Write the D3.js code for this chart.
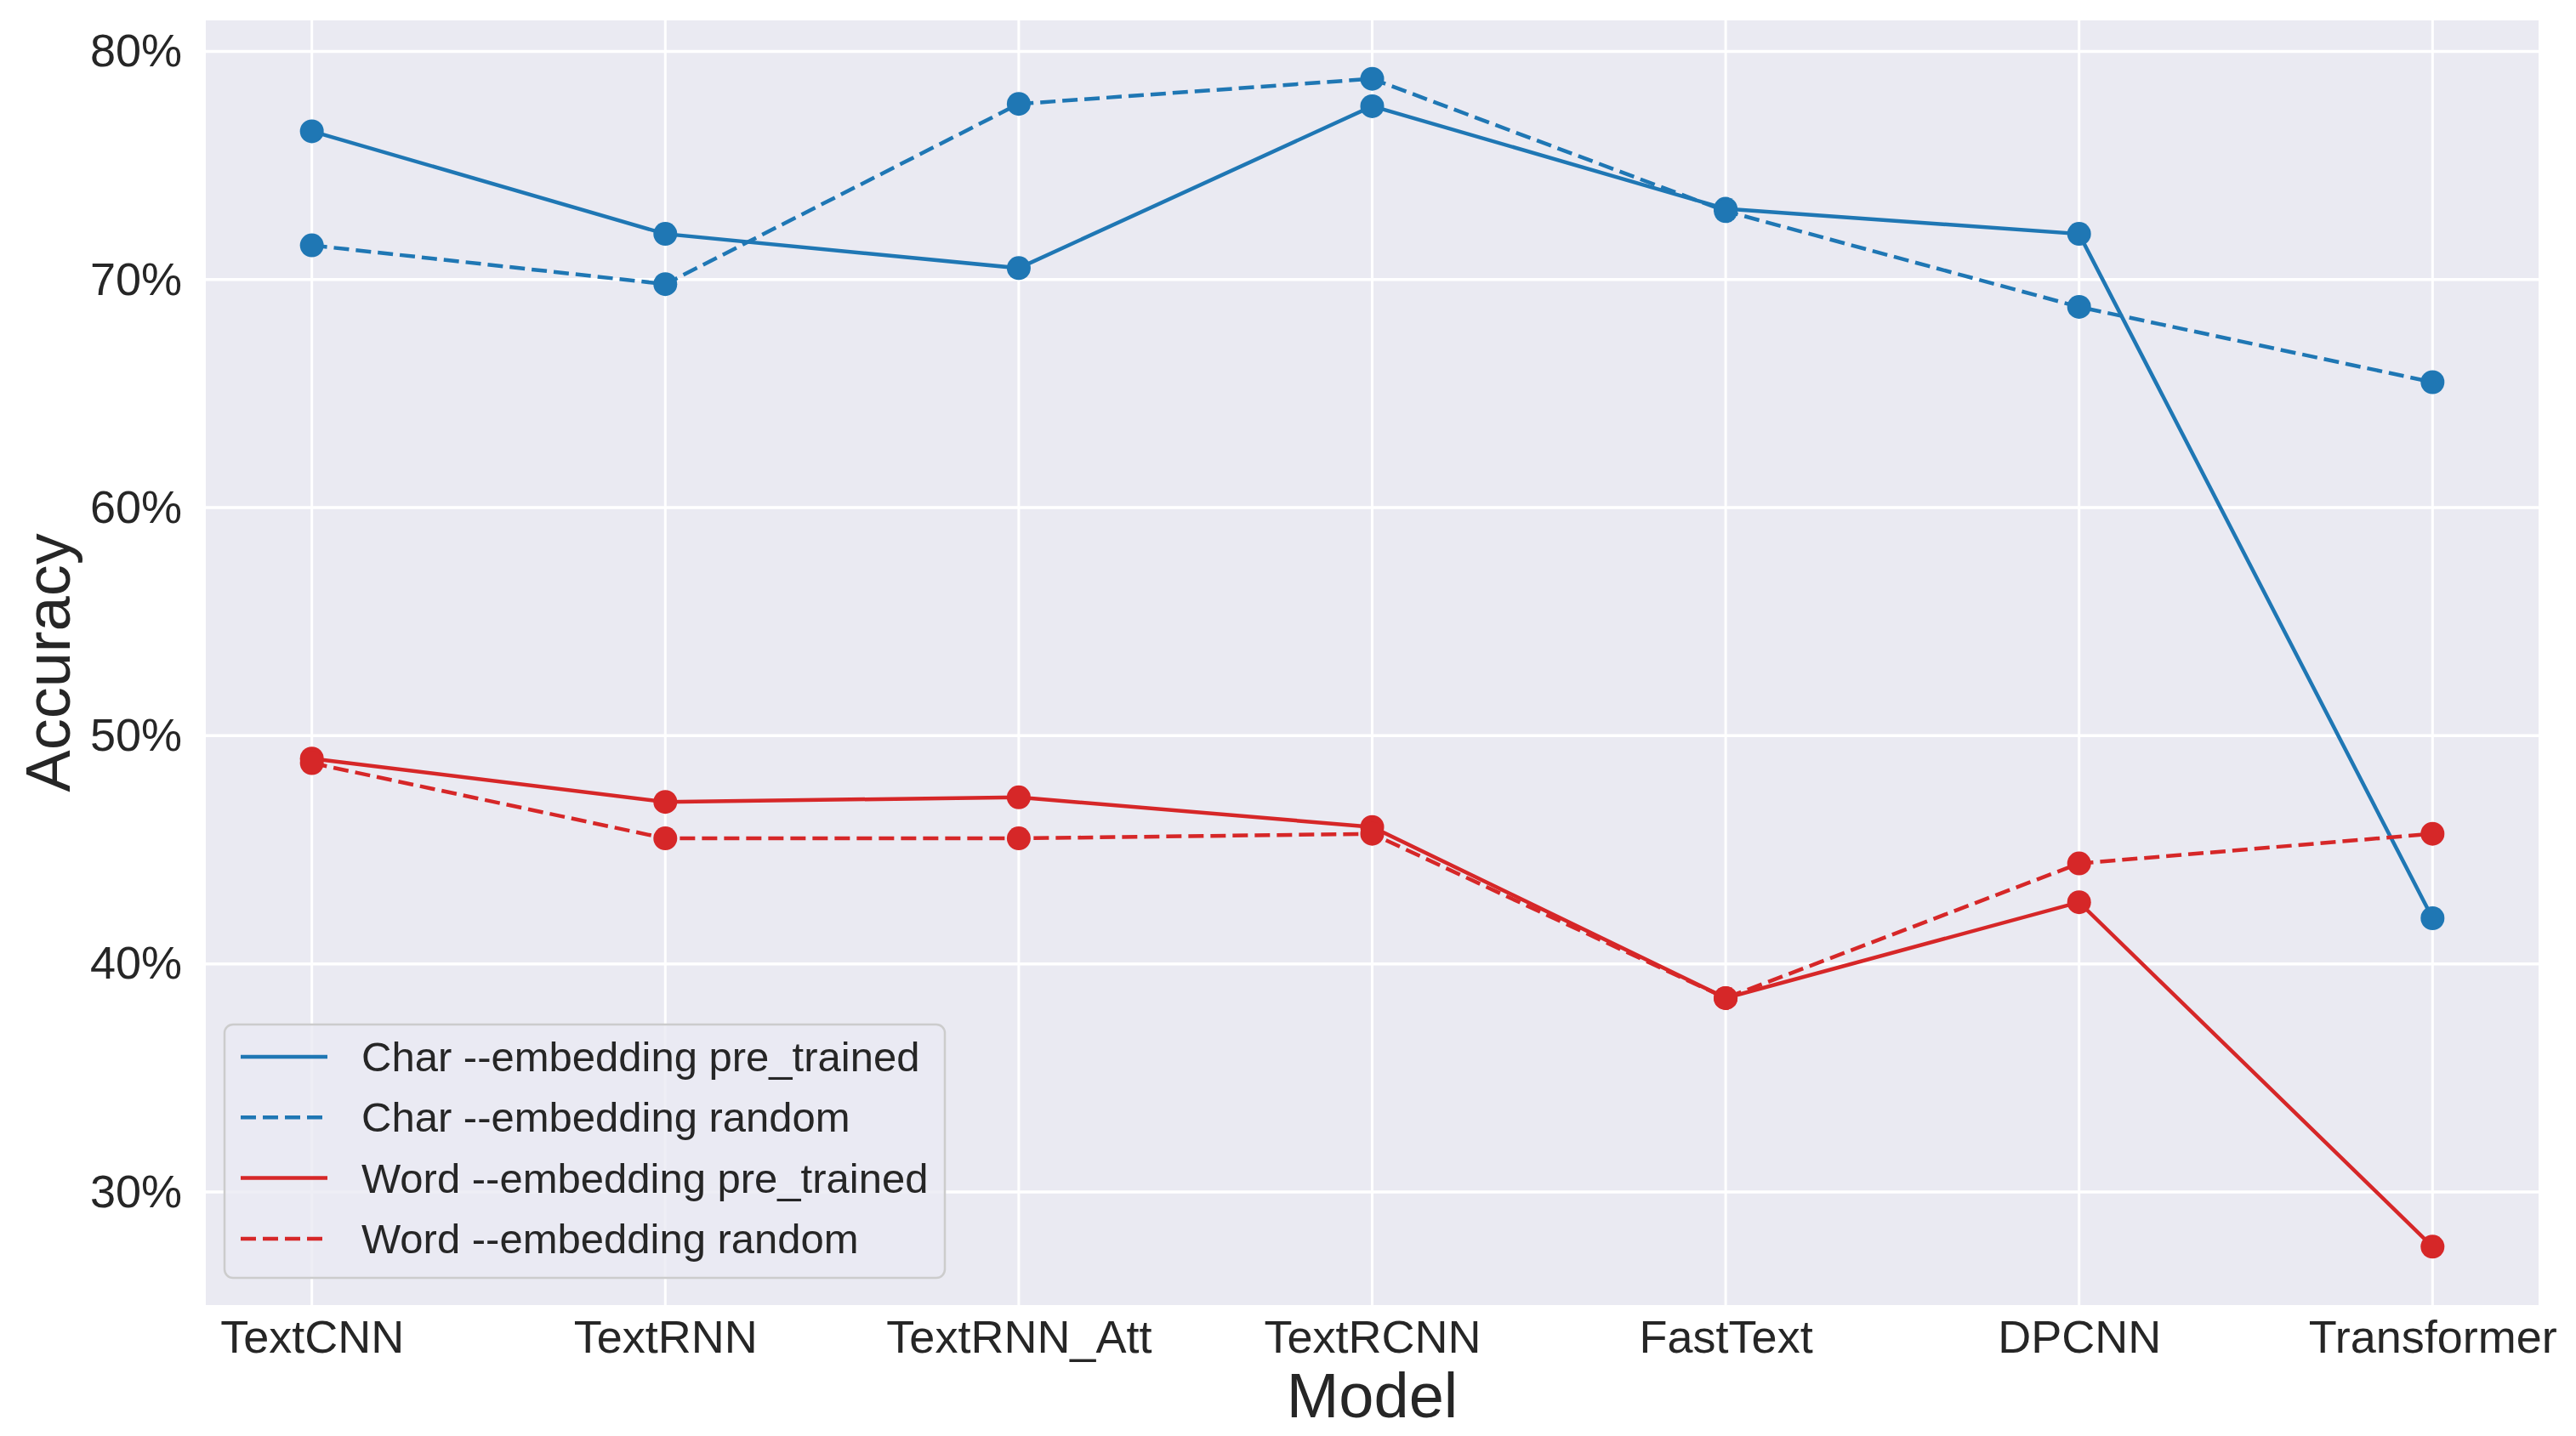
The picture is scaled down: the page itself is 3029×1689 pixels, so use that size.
<!DOCTYPE html>
<html>
<head>
<meta charset="utf-8">
<script src="https://cdn.jsdelivr.net/npm/d3@7"></script>
<style>
    body { margin: 0; background: #ffffff; }
    text { font-family: "Liberation Sans", Arial, sans-serif; fill: #262626; }
</style>
</head>
<body>
<div class="chart"></div>
<script>
var models = ["TextCNN", "TextRNN", "TextRNN_Att", "TextRCNN", "FastText", "DPCNN", "Transformer"];

var charPretrained = [76.5, 72.0, 70.5, 77.6, 73.1, 72.0, 42.0];
var charRandom = [71.5, 69.8, 77.7, 78.8, 73.0, 68.8, 65.5];
var wordPretrained = [49.0, 47.1, 47.3, 46.0, 38.5, 42.7, 27.6];
var wordRandom = [48.8, 45.5, 45.5, 45.7, 38.5, 44.4, 45.7];

var seriesNames = [
    "Char --embedding pre_trained",
    "Char --embedding random",
    "Word --embedding pre_trained",
    "Word --embedding random"
];

var yTicks = [30, 40, 50, 60, 70, 80];

drawChart();

function drawChart() {
    var series = [
        { name: seriesNames[0], values: charPretrained, color: "#1f77b4", dash: null },
        { name: seriesNames[1], values: charRandom, color: "#1f77b4", dash: "18,8" },
        { name: seriesNames[2], values: wordPretrained, color: "#d62728", dash: null },
        { name: seriesNames[3], values: wordRandom, color: "#d62728", dash: "18,8" }
    ];

    let margins = {
        top: 24,
        left: 242,
        right: 44,
        bottom: 154
    };
    let fullWidth = 3029;
    let fullHeight = 1689;
    let width = fullWidth - margins.left - margins.right;
    let height = fullHeight - margins.top - margins.bottom;

    var svg = d3.select('.chart')
        .append('svg')
        .attr('width', fullWidth)
        .attr('height', fullHeight)
        .append('g')
        .attr('transform', 'translate(' + margins.left + ',' + margins.top + ')');

    // matplotlib style 5% padding around the data
    var allValues = [].concat(charPretrained, charRandom, wordPretrained, wordRandom);
    var yMin = d3.min(allValues);
    var yMax = d3.max(allValues);
    var pad = (yMax - yMin) * 0.05;

    var xScale = d3.scaleLinear()
        .domain([-0.3, models.length - 1 + 0.3])
        .range([0, width]);

    var yScale = d3.scaleLinear()
        .domain([yMin - pad, yMax + pad])
        .range([height, 0]);

    svg.append('rect')
        .attr('width', width)
        .attr('height', height)
        .attr('fill', '#eaeaf2');

    // grid
    svg.append('g')
        .selectAll('line')
        .data(yTicks)
        .enter()
        .append('line')
        .attr('x1', 0)
        .attr('x2', width)
        .attr('y1', d => yScale(d))
        .attr('y2', d => yScale(d))
        .attr('stroke', '#ffffff')
        .attr('stroke-width', 3.5);

    svg.append('g')
        .selectAll('line')
        .data(models)
        .enter()
        .append('line')
        .attr('x1', (d, i) => xScale(i))
        .attr('x2', (d, i) => xScale(i))
        .attr('y1', 0)
        .attr('y2', height)
        .attr('stroke', '#ffffff')
        .attr('stroke-width', 3);

    // axes, no domain lines or ticks as in seaborn darkgrid
    var yAxis = d3.axisLeft(yScale)
        .tickValues(yTicks)
        .tickSize(0)
        .tickPadding(28)
        .tickFormat(d => d + '%');

    var xAxis = d3.axisBottom(xScale)
        .tickValues(d3.range(models.length))
        .tickSize(0)
        .tickPadding(18)
        .tickFormat(i => models[i]);

    var yG = svg.append('g').call(yAxis);
    yG.select('.domain').remove();
    yG.selectAll('text')
        .attr('font-size', 54)
        .attr('fill', '#262626')
        .attr('font-family', '"Liberation Sans", Arial, sans-serif');

    var xG = svg.append('g')
        .attr('transform', 'translate(0,' + height + ')')
        .call(xAxis);
    xG.select('.domain').remove();
    xG.selectAll('text')
        .attr('font-size', 54)
        .attr('fill', '#262626')
        .attr('font-family', '"Liberation Sans", Arial, sans-serif');

    svg.append('text')
        .attr('x', width / 2)
        .attr('y', 1667 - margins.top)
        .attr('text-anchor', 'middle')
        .attr('font-size', 74)
        .text('Model');

    svg.append('text')
        .attr('transform', 'translate(' + (82 - margins.left) + ',' + (height / 2) + ') rotate(-90)')
        .attr('text-anchor', 'middle')
        .attr('font-size', 74)
        .text('Accuracy');

    // lines and markers
    var line = d3.line()
        .x((d, i) => xScale(i))
        .y(d => yScale(d));

    series.forEach(function (s) {
        var g = svg.append('g');
        g.append('path')
            .datum(s.values)
            .attr('d', line)
            .attr('fill', 'none')
            .attr('stroke', s.color)
            .attr('stroke-width', 4.5)
            .attr('stroke-dasharray', s.dash);
        g.selectAll('circle')
            .data(s.values)
            .enter()
            .append('circle')
            .attr('cx', (d, i) => xScale(i))
            .attr('cy', d => yScale(d))
            .attr('r', 14)
            .attr('fill', s.color);
    });

    // legend
    var legend = svg.append('g')
        .attr('transform', 'translate(' + (264 - margins.left) + ',' + (1205 - margins.top) + ')');

    legend.append('rect')
        .attr('width', 847)
        .attr('height', 298)
        .attr('rx', 10)
        .attr('fill', '#eaeaf2')
        .attr('fill-opacity', 0.8)
        .attr('stroke', '#cccccc')
        .attr('stroke-width', 2.5);

    series.forEach(function (s, i) {
        var y = 38 + i * 71.3;
        legend.append('line')
            .attr('x1', 19)
            .attr('x2', 121)
            .attr('y1', y)
            .attr('y2', y)
            .attr('stroke', s.color)
            .attr('stroke-width', 4.5)
            .attr('stroke-dasharray', s.dash);
        legend.append('text')
            .attr('x', 161)
            .attr('y', y)
            .attr('dy', '0.35em')
            .attr('text-anchor', 'start')
            .attr('font-size', 49)
            .text(s.name);
    });
}
</script>
</body>
</html>
